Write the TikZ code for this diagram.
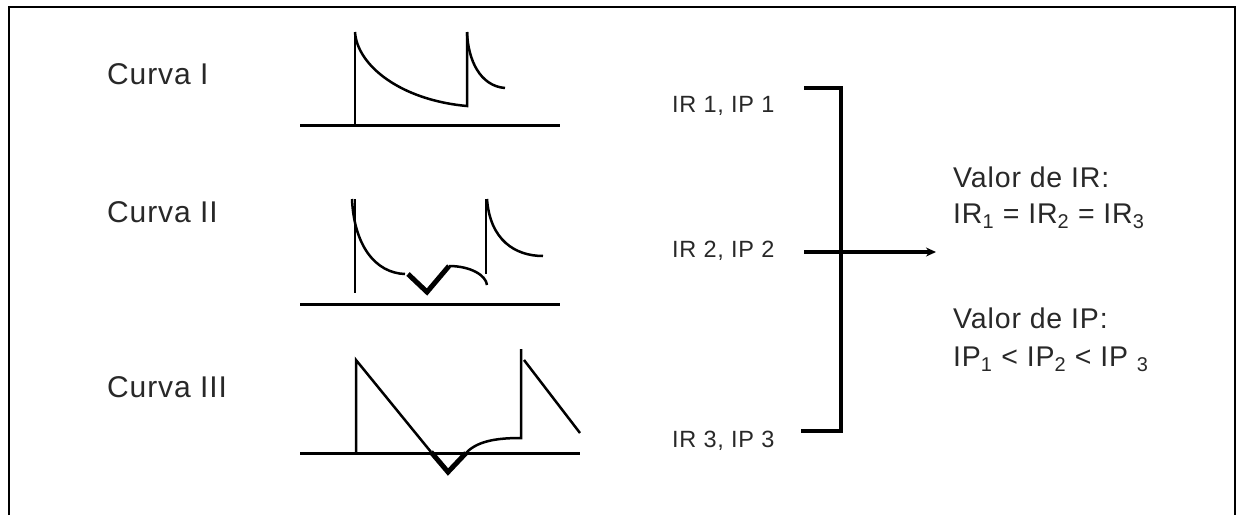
\documentclass[tikz,border=0pt]{standalone}
\usepackage{fontspec}
\setmainfont{Liberation Sans}[LetterSpace=3]
\usetikzlibrary{arrows.meta}
\definecolor{txt}{RGB}{40,40,40}
\tikzset{
  lab/.style={anchor=base west, inner sep=0pt, text=txt},
  curvelab/.style={lab, font=\fontsize{30}{34}\selectfont},
  irlab/.style={lab, font=\fontsize{23.5}{27}\selectfont},
  reslab/.style={lab, font=\fontsize{28.5}{33}\selectfont},
  axis/.style={line width=3pt},
  trace/.style={line width=2.5pt},
  dip/.style={line width=5pt, line join=miter},
  brk/.style={line width=4pt},
  frame/.style={line width=2pt}
}
\begin{document}
\begin{tikzpicture}[x=1pt,y=-1pt]
\useasboundingbox (0,0) rectangle (1239,515);
% frame
\draw[frame] (9,515) -- (9,7) -- (1235,7) -- (1235,515);

% labels
\node[curvelab] (c1) at (107,84) {Curva I};
\node[curvelab] (c2) at (107,222) {Curva II};
\node[curvelab] (c3) at (107,397) {Curva III};

\node[irlab] (ir1) at (672,112) {IR 1, IP 1};
\node[irlab] (ir2) at (672,257) {IR 2, IP 2};
\node[irlab] (ir3) at (672,447) {IR 3, IP 3};

\node[reslab] (vir) at (953,187) {Valor de IR:};
\node[reslab] (eqir) at (953,223) {IR\textsubscript{1} = IR\textsubscript{2} = IR\textsubscript{3}};
\node[reslab] (vip) at (953,328) {Valor de IP:};
\node[reslab] (eqip) at (953,366) {IP\textsubscript{1} < IP\textsubscript{2} < IP \textsubscript{3}};

% Curva I
\draw[axis] (300,125) -- (560,125);
\draw[trace] (355,125) -- (355,32);
\draw[trace] (355,32) .. controls (357,65) and (400,100) .. (467,106) -- (467,32);
\draw[trace] (467,32) .. controls (468,60) and (480,86) .. (505,88);

% Curva II
\draw[axis] (300,304) -- (560,304);
\draw[trace] (355,199) -- (355,293);
\draw[trace] (352,199) .. controls (354,245) and (375,273) .. (405,274);
\draw[dip] (408,274) -- (427,292) -- (449,266);
\draw[trace] (449,266) .. controls (470,266) and (486,275) .. (487,285);
\draw[trace] (486,199) -- (486,274);
\draw[trace] (487,199) .. controls (490,240) and (515,256) .. (543,256);

% Curva III
\draw[axis] (300,453) -- (580,453);
\draw[trace] (356,453) -- (356,360) -- (431,452);
\draw[dip] (431,452) -- (448,472) -- (466,453);
\draw[trace] (466,453) .. controls (478,440) and (500,438) .. (521,438) -- (521,349);
\draw[trace] (524,360) -- (580,433);

% bracket and arrow
\coordinate (b1) at (804,88);
\coordinate (b2) at (804,252);
\coordinate (b3) at (801,431);
\coordinate (bt) at (841,88);
\coordinate (bb) at (841,431);
\coordinate (tip) at (936,252);
\draw[brk] (b1) -- (bt) -- (bb) -- (b3);
\draw[brk, -{Stealth[length=10pt,width=9pt]}] (b2) -- (tip);
\end{tikzpicture}
\end{document}
